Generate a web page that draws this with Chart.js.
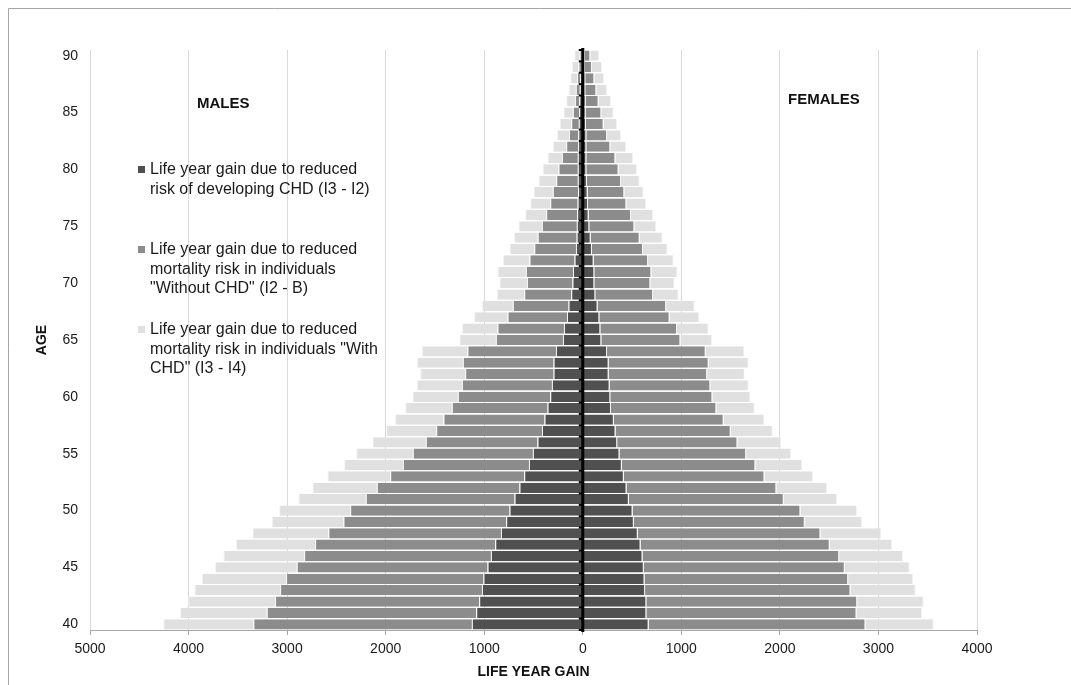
<!DOCTYPE html>
<html>
<head>
<meta charset="utf-8">
<script src="https://cdn.jsdelivr.net/npm/chart.js@4/dist/chart.umd.min.js"></script>
<style>
  html, body { margin: 0; padding: 0; background: #fff; }
  #wrap { position: relative; width: 1071px; height: 685px; }
  canvas { display: block; }
</style>
</head>
<body>
<div id="wrap"><canvas id="c" width="1071" height="685"></canvas></div>
<script>
// ---- Data (ages 40..90) ----
const ages = [40,41,42,43,44,45,46,47,48,49,50,51,52,53,54,55,56,57,58,59,60,61,62,63,64,65,66,67,68,69,70,71,72,73,74,75,76,77,78,79,80,81,82,83,84,85,86,87,88,89,90];
const ageTickLabels = ['40','45','50','55','60','65','70','75','80','85','90'];
const xTickValues = [-5000,-4000,-3000,-2000,-1000,0,1000,2000,3000,4000];

const seriesNames = [
  ['Life year gain due to reduced', 'risk of developing CHD (I3 - I2)'],
  ['Life year gain due to reduced', 'mortality risk in individuals', '"Without CHD" (I2 - B)'],
  ['Life year gain due to reduced', 'mortality risk in individuals "With', 'CHD" (I3 - I4)']
];
const sideTitles = ['MALES', 'FEMALES'];

// Males (magnitudes; drawn to the left)
const maleRiskCHD = [1125,1081,1051,1023,1007,966,932,888,830,777,
  743,692,642,594,546,506,459,414,388,357,
  330,313,296,296,272,201,191,160,144,117,
  104,99,83,69,62,60,57,52,48,50,
  50,50,48,45,40,38,35,30,24,18,12];
const maleWithoutCHD = [2217,2125,2071,2048,2003,1936,1895,1828,1751,1651,
  1617,1509,1447,1360,1279,1218,1133,1073,1025,971,
  937,913,897,920,898,680,674,603,565,477,
  462,478,457,423,395,354,314,278,255,219,
  196,161,120,95,77,62,44,40,34,25,20];
const maleWithCHD = [914,880,880,870,856,829,820,802,771,727,
  721,684,654,637,596,575,542,508,491,474,
  461,457,457,467,462,370,361,339,314,277,
  279,288,270,251,240,238,213,203,196,180,
  162,146,135,122,118,95,89,74,69,67,54];

// Females (drawn to the right)
const femaleRiskCHD = [668,645,645,632,626,619,606,586,558,518,
  505,467,444,416,396,372,349,332,315,286,
  279,272,262,262,246,188,178,168,150,127,
  117,117,110,93,80,66,59,53,49,42,
  36,36,36,36,32,28,28,25,25,22,20];
const femaleWithoutCHD = [2200,2132,2139,2084,2066,2039,1995,1919,1853,1734,
  1703,1572,1520,1427,1355,1285,1220,1169,1114,1069,
  1036,1022,999,1015,1001,802,778,713,695,586,
  568,578,552,518,497,457,430,389,372,346,
  327,294,243,210,179,160,132,112,92,71,56];
const femaleWithCHD = [693,665,675,662,660,659,648,634,619,582,
  575,541,515,493,475,457,443,426,414,389,
  386,389,382,406,393,322,321,302,290,260,
  247,267,260,250,232,223,224,203,196,189,
  187,180,163,142,136,125,126,109,101,102,92];

// ---- Styles ----
const colors = ['#505050', '#8c8c8c', '#e0e0e0'];
const FONT = "'Liberation Sans', Arial, 'DejaVu Sans', sans-serif";
const segBorder = '#f4f4f4';

function ds(label, data, color, side) {
  return {
    label: label.join(' '),
    data: data,
    backgroundColor: color,
    borderColor: segBorder,
    borderWidth: side === 'm' ? {left: 1, right: 0, top: 0, bottom: 0} : {left: 0, right: 1, top: 0, bottom: 0},
    borderSkipped: false,
    barPercentage: 0.9,
    categoryPercentage: 1.0,
    stack: 'pyr'
  };
}
const neg = a => a.map(v => -v);

const datasets = [
  ds(seriesNames[0], neg(maleRiskCHD), colors[0], 'm'),
  ds(seriesNames[1], neg(maleWithoutCHD), colors[1], 'm'),
  ds(seriesNames[2], neg(maleWithCHD), colors[2], 'm'),
  ds(seriesNames[0], femaleRiskCHD, colors[0], 'f'),
  ds(seriesNames[1], femaleWithoutCHD, colors[1], 'f'),
  ds(seriesNames[2], femaleWithCHD, colors[2], 'f')
];

// Frame around the figure (left and top edges visible)
const framePlugin = {
  id: 'frame',
  beforeDraw(chart) {
    const ctx = chart.ctx;
    ctx.save();
    ctx.strokeStyle = '#a6a6a6';
    ctx.lineWidth = 1;
    ctx.beginPath();
    ctx.moveTo(8.5, 700); ctx.lineTo(8.5, 8.5); ctx.lineTo(1080, 8.5);
    ctx.stroke();
    ctx.restore();
  }
};

// Zero axis (black) with category tick marks
const zeroAxisPlugin = {
  id: 'zeroAxis',
  afterDatasetsDraw(chart) {
    const {ctx, chartArea, scales} = chart;
    const x0 = scales.x.getPixelForValue(0);
    const y = scales.y;
    ctx.save();
    ctx.strokeStyle = '#000';
    ctx.lineWidth = 3;
    ctx.beginPath();
    ctx.moveTo(x0, chartArea.top - 2);
    ctx.lineTo(x0, chartArea.bottom + 2);
    ctx.stroke();
    ctx.lineWidth = 2;
    const n = ages.length;
    const step = Math.abs(y.getPixelForValue(1) - y.getPixelForValue(0));
    for (let i = 0; i <= n; i++) {
      const yy = y.getPixelForValue(i) + step / 2;
      ctx.beginPath();
      ctx.moveTo(x0 - 4, yy);
      ctx.lineTo(x0, yy);
      ctx.stroke();
    }
    ctx.restore();
  }
};

// In-plot legend and side titles
const annotPlugin = {
  id: 'annot',
  afterDraw(chart) {
    const ctx = chart.ctx;
    ctx.save();
    ctx.fillStyle = '#111';
    ctx.font = 'bold 15px ' + FONT;
    ctx.textBaseline = 'middle';
    ctx.textAlign = 'left';
    ctx.fillText(sideTitles[0], 197, 104);
    ctx.fillText(sideTitles[1], 788, 100);

    const starts = [170, 250, 330];
    ctx.font = '16px ' + FONT;
    seriesNames.forEach((lines, k) => {
      const y0 = starts[k];
      ctx.fillStyle = colors[k];
      ctx.fillRect(138, y0 - 4, 7, 7);
      ctx.fillStyle = '#1a1a1a';
      lines.forEach((t, j) => ctx.fillText(t, 150, y0 + j * 19.5));
    });
    ctx.restore();
  }
};

new Chart(document.getElementById('c'), {
  type: 'bar',
  data: { labels: ages.map(String), datasets },
  options: {
    indexAxis: 'y',
    responsive: false,
    animation: false,
    layout: { padding: { top: 50, right: 94, left: 0, bottom: 0 } },
    plugins: { legend: { display: false }, tooltip: { enabled: false } },
    scales: {
      x: {
        type: 'linear',
        stacked: true,
        min: -5000,
        max: 4000,
        afterBuildTicks(scale) { scale.ticks = xTickValues.map(v => ({ value: v })); },
        afterFit(scale) { scale.height = 55; },
        ticks: {
          callback: v => String(Math.abs(v)),
          font: { family: FONT, size: 14 },
          color: '#1a1a1a',
          padding: 6,
          maxRotation: 0
        },
        grid: { color: '#d9d9d9', tickColor: '#a6a6a6', tickLength: 5, lineWidth: 1 },
        border: { display: true, color: '#a6a6a6' },
        title: {
          display: true,
          text: 'LIFE YEAR GAIN',
          font: { family: FONT, size: 14, weight: 'bold' },
          color: '#111',
          padding: { top: 0, bottom: 4 }
        }
      },
      y: {
        type: 'category',
        stacked: true,
        reverse: true,
        afterFit(scale) { scale.width = 90; },
        ticks: {
          autoSkip: false,
          callback(val, idx) {
            const lab = this.getLabelForValue(val);
            return ageTickLabels.includes(lab) ? lab : '';
          },
          font: { family: FONT, size: 14 },
          color: '#1a1a1a',
          padding: 12
        },
        grid: { display: false, drawTicks: false },
        border: { display: false },
        title: {
          display: true,
          text: 'AGE',
          font: { family: FONT, size: 14, weight: 'bold' },
          color: '#111',
          padding: { top: 34, bottom: 0 }
        }
      }
    }
  },
  plugins: [framePlugin, zeroAxisPlugin, annotPlugin]
});
</script>
</body>
</html>
